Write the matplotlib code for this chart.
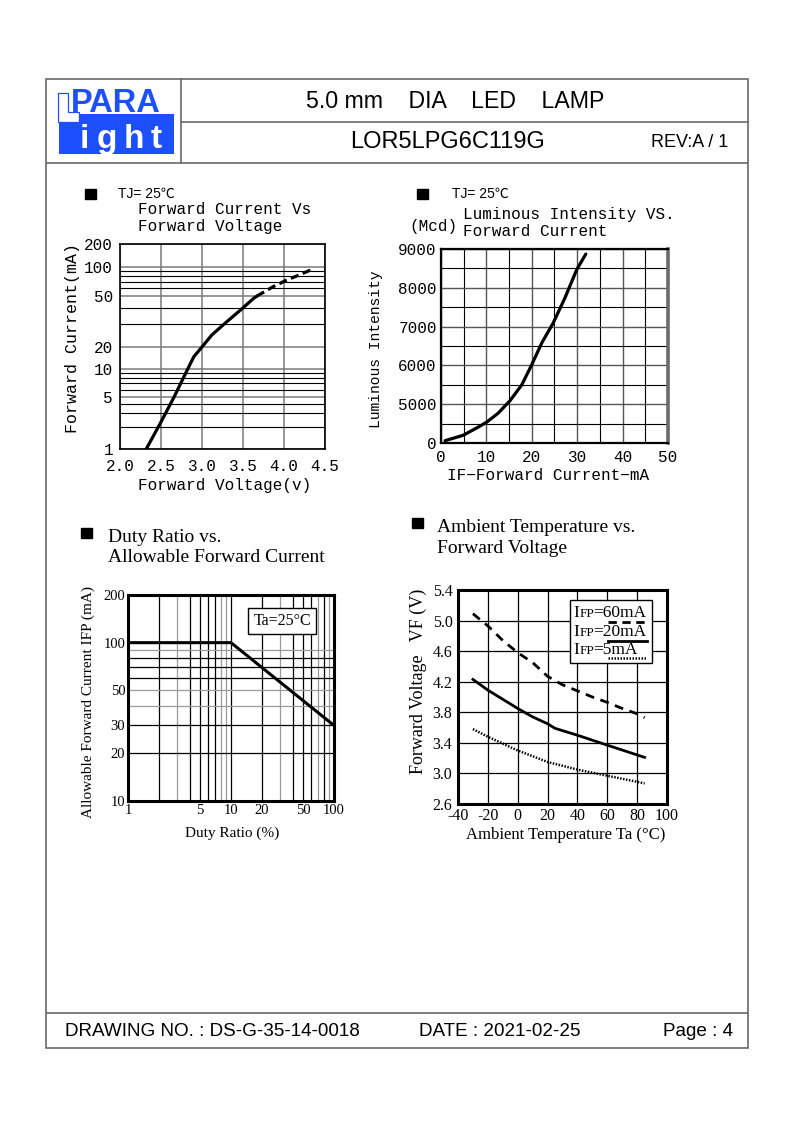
import numpy as np
import matplotlib
matplotlib.use("Agg")
import matplotlib.pyplot as plt
from matplotlib.patches import Rectangle, Polygon
from matplotlib.lines import Line2D
from matplotlib.ticker import NullFormatter

# ---- data ----
# forward current vs forward voltage (Tj = 25C)
fv_solid_v = [2.32, 2.49, 2.66, 2.80, 2.90, 3.0, 3.12, 3.28, 3.47, 3.63, 3.67]
fv_solid_i = [1.0, 2.2, 5.0, 9.0, 14.7, 20, 24.8, 30.6, 38.9, 48, 50]
fv_dash_v = [3.67, 3.87, 4.03, 4.19, 4.35]
fv_dash_i = [50, 62.7, 73, 83, 95]
fv_xticks = [2.0, 2.5, 3.0, 3.5, 4.0, 4.5]
fv_yticks = [1, 5, 10, 20, 50, 100, 200]
fv_ypos = [0, 0.254, 0.390, 0.498, 0.746, 0.888, 1.0]  # how the hand drawn axis is spaced
fv_minor = [2, 3, 4, 6, 7, 8, 9, 30, 40, 60, 70, 80, 90]

# luminous intensity vs forward current
li_if = [0.9, 4.9, 7.9, 10.1, 12.6, 15.2, 17.8, 20.0, 22.2, 24.7, 27.3, 29.9, 31.9]
li_iv = [4060, 4200, 4390, 4540, 4770, 5090, 5500, 6020, 6580, 7090, 7740, 8470, 8870]
li_yticks = [4000, 5000, 6000, 7000, 8000, 9000]
li_ylabels = ['0', '5000', '6000', '7000', '8000', '9000']  # bottom is labelled 0 on the sheet
li_xticks = [0, 10, 20, 30, 40, 50]

# duty ratio vs allowable forward current
dr_duty = [1, 10, 100]
dr_ifp = [100, 100, 30]
dr_xticks = [1, 5, 10, 20, 50, 100]
dr_yticks = [10, 20, 30, 50, 100, 200]
dr_dark_x = [2, 4, 5, 6, 7, 10, 20, 40, 50, 60, 80]
dr_light_x = [3, 8, 9, 30, 70, 90]
dr_dark_y = [20, 30, 60, 70, 80]
dr_light_y = [40, 50, 90]

# ambient temperature vs forward voltage
t60 = [-30, -20, -10, 0, 10, 20, 30, 40, 50, 60, 70, 80, 85]
v60 = [5.09, 4.93, 4.74, 4.58, 4.45, 4.27, 4.16, 4.08, 4.0, 3.93, 3.85, 3.78, 3.73]
t20 = [-30, -20, -10, 0, 10, 20, 25, 40, 60, 85]
v20 = [4.23, 4.09, 3.97, 3.85, 3.74, 3.65, 3.59, 3.50, 3.37, 3.21]
t5 = [-30, -20, 0, 20, 40, 60, 85]
v5 = [3.58, 3.48, 3.30, 3.15, 3.05, 2.97, 2.87]
at_xticks = [-40, -20, 0, 20, 40, 60, 80, 100]
at_yticks = [2.6, 3.0, 3.4, 3.8, 4.2, 4.6, 5.0, 5.4]

W, H = 794, 1123
MONO = ['Liberation Mono', 'DejaVu Sans Mono']
SERIF = ['Liberation Serif', 'DejaVu Serif']
SANS = ['Liberation Sans', 'Noto Sans CJK SC', 'DejaVu Sans']
BLUE = '#1e4fff'
FRAME = '#6a6a6a'


def fx(x):
    return x / W


def fy(y):
    return 1 - y / H


def box(l, t, r, b):
    return [fx(l), fy(b), (r - l) / W, (b - t) / H]


fig = plt.figure(figsize=(W / 100, H / 100), dpi=100)


def line(x0, y0, x1, y1, **kw):
    fig.add_artist(Line2D([fx(x0), fx(x1)], [fy(y0), fy(y1)], transform=fig.transFigure, **kw))


def txt(x, y, s, **kw):
    kw.setdefault('va', 'center')
    return fig.text(fx(x), fy(y), s, **kw)


def square(x, y):
    fig.add_artist(Rectangle((fx(x), fy(y + 10)), 11 / W, 10 / H,
                             transform=fig.transFigure, color='black'))


# ---- page frame ----
fig.add_artist(Rectangle((fx(46), fy(1048)), 702 / W, 969 / H, transform=fig.transFigure,
                         fill=False, ec=FRAME, lw=1.2))
line(46, 163, 748, 163, color=FRAME, lw=1.2)
line(181, 122, 748, 122, color=FRAME, lw=1.2)
line(181, 79, 181, 163, color=FRAME, lw=1.2)
line(46, 1013, 748, 1013, color=FRAME, lw=1.2)

# logo
fig.add_artist(Rectangle((fx(59), fy(154)), 115 / W, 40 / H, transform=fig.transFigure,
                         color=BLUE, lw=0))
Lshape = [(57.5, 93), (67.5, 93), (67.5, 112), (79, 112), (79, 122), (57.5, 122)]
fig.add_artist(Polygon([(fx(a), fy(b)) for a, b in Lshape], closed=True, transform=fig.transFigure,
                       fc='white', ec=BLUE, lw=0.9))
txt(116, 112, 'PARA', family=SANS, fontsize=23.5, weight='bold', color=BLUE,
    ha='center', va='baseline')
for ch, xc in zip('ight', [84.5, 107, 134, 156]):
    txt(xc, 148, ch, family=SANS, fontsize=24, weight='bold', color='white',
        ha='center', va='baseline')

# header / footer text
txt(455, 102, '5.0 mm    DIA    LED    LAMP', family=SANS, fontsize=16.7, ha='center')
txt(447, 142, 'LOR5LPG6C119G', family=SANS, fontsize=17, ha='center')
txt(690, 143, 'REV:A / 1', family=SANS, fontsize=13, ha='center')
txt(65, 1031, 'DRAWING NO. : DS-G-35-14-0018', family=SANS, fontsize=13.6)
txt(419, 1031, 'DATE : 2021-02-25', family=SANS, fontsize=13.6)
txt(733, 1031, 'Page : 4', family=SANS, fontsize=13.6, ha='right')


# ---- chart 1: forward current vs forward voltage ----
def fwd(y):
    return np.interp(np.log10(np.clip(y, 1e-6, None)), np.log10(fv_yticks), fv_ypos)


def inv(p):
    return 10 ** np.interp(p, fv_ypos, np.log10(fv_yticks))


square(85, 189)
txt(118, 194, 'TJ= 25℃', family=SANS, fontsize=10)
txt(138, 209, 'Forward Current Vs', family=MONO, fontsize=11.5)
txt(138, 226, 'Forward Voltage', family=MONO, fontsize=11.5)

ax1 = fig.add_axes(box(120, 244, 325, 449))
ax1.plot(fv_solid_v, fv_solid_i, color='black', lw=2.3, solid_capstyle='round',
         solid_joinstyle='round')
ax1.plot(fv_dash_v, fv_dash_i, color='black', lw=2.3, dashes=(2.6, 1.4))
ax1.set_yscale('function', functions=(fwd, inv))
ax1.set_xlim(2.0, 4.5)
ax1.set_ylim(1, 200)
ax1.set_xticks(fv_xticks)
ax1.set_xticklabels(['%.1f' % v for v in fv_xticks])
ax1.set_yticks(fv_yticks)
ax1.set_yticklabels([str(v) for v in fv_yticks])
ax1.set_yticks(fv_minor, minor=True)
ax1.yaxis.set_minor_formatter(NullFormatter())
ax1.grid(True, which='major', color='#7a7a7a', lw=1.1)
ax1.grid(True, which='minor', axis='y', color='black', lw=0.8)
ax1.set_axisbelow(True)
ax1.tick_params(which='both', length=0, labelsize=11.5)
ax1.tick_params(axis='x', pad=7)
ax1.tick_params(axis='y', pad=5)
for lab in ax1.get_xticklabels() + ax1.get_yticklabels():
    lab.set_family(MONO)
for sp in ax1.spines.values():
    sp.set_linewidth(1.2)
txt(138, 485, 'Forward Voltage(v)', family=MONO, fontsize=11.5)
txt(73, 338, 'Forward Current(mA)', family=MONO, fontsize=12, rotation=90, ha='center')

# ---- chart 2: luminous intensity vs forward current ----
square(417, 189)
txt(452, 194, 'TJ= 25℃', family=SANS, fontsize=10)
txt(409, 227, '(Mcd)', family=MONO, fontsize=11.5)
txt(463, 215, 'Luminous Intensity VS.', family=MONO, fontsize=11.5)
txt(463, 232, 'Forward Current', family=MONO, fontsize=11.5)

ax2 = fig.add_axes(box(441, 249, 668, 443))
ax2.plot(li_if, li_iv, color='black', lw=2.3, solid_joinstyle='round', solid_capstyle='round')
ax2.set_xlim(0, 50)
ax2.set_ylim(4000, 9000)
ax2.set_xticks(li_xticks)
ax2.set_yticks(li_yticks)
ax2.set_yticklabels(li_ylabels)
ax2.set_xticks(np.arange(5, 50, 10), minor=True)
ax2.set_yticks(np.arange(4500, 9000, 1000), minor=True)
ax2.grid(True, which='major', color='#555555', lw=1.0)
ax2.grid(True, which='minor', color='black', lw=0.8)
ax2.set_axisbelow(True)
ax2.tick_params(which='both', length=0, labelsize=11.5)
ax2.tick_params(axis='x', pad=5)
ax2.tick_params(axis='y', pad=3)
for lab in ax2.get_xticklabels() + ax2.get_yticklabels():
    lab.set_family(MONO)
for sp in ax2.spines.values():
    sp.set_linewidth(1.6)
ax2.spines['right'].set_color('#6a6a6a')
ax2.spines['right'].set_linewidth(2.6)
txt(447, 475, 'IF−Forward Current−mA', family=MONO, fontsize=11.5)
txt(376, 349, 'Luminous Intensity', family=MONO, fontsize=10.5, rotation=90, ha='center')

# ---- chart 3: duty ratio vs allowable forward current ----
square(81, 528)
txt(108, 537, 'Duty Ratio vs.', family=SERIF, fontsize=14)
txt(108, 557, 'Allowable Forward Current', family=SERIF, fontsize=14)

ax3 = fig.add_axes(box(128, 595, 334, 801))
for v in dr_dark_x:
    ax3.axvline(v, color='black', lw=0.9, zorder=0)
for v in dr_light_x:
    ax3.axvline(v, color='#9a9a9a', lw=0.9, zorder=0)
for v in dr_dark_y:
    ax3.axhline(v, color='black', lw=0.9, zorder=0)
for v in dr_light_y:
    ax3.axhline(v, color='#9a9a9a', lw=0.9, zorder=0)
ax3.plot(dr_duty, dr_ifp, color='black', lw=2.2)
ax3.set_xscale('log')
ax3.set_yscale('log')
ax3.set_xlim(1, 100)
ax3.set_ylim(10, 200)
ax3.set_xticks(dr_xticks)
ax3.set_xticklabels([str(v) for v in dr_xticks])
ax3.set_yticks(dr_yticks)
ax3.set_yticklabels([str(v) for v in dr_yticks])
ax3.xaxis.set_minor_formatter(NullFormatter())
ax3.yaxis.set_minor_formatter(NullFormatter())
ax3.tick_params(which='both', length=0, labelsize=10.5, pad=2)
for lab in ax3.get_xticklabels() + ax3.get_yticklabels():
    lab.set_family(SERIF)
for sp in ax3.spines.values():
    sp.set_linewidth(2.2)
ax3.text(0.748, 0.874, 'Ta=25°C', transform=ax3.transAxes, family=SERIF, fontsize=11.5,
         ha='center', va='center',
         bbox=dict(boxstyle='square,pad=0.3', fc='white', ec='black', lw=1.0))
txt(232, 833, 'Duty Ratio (%)', family=SERIF, fontsize=11, ha='center')
txt(88, 702, 'Allowable Forward Current IFP (mA)', family=SERIF, fontsize=11,
    rotation=90, ha='center')

# ---- chart 4: ambient temperature vs forward voltage ----
square(412, 518)
txt(437, 527, 'Ambient Temperature vs.', family=SERIF, fontsize=14)
txt(437, 548, 'Forward Voltage', family=SERIF, fontsize=14)

ax4 = fig.add_axes(box(458, 590, 667, 804))
ax4.plot(t60, v60, color='black', lw=2.0, dashes=(3.2, 2.4))
ax4.plot(t20, v20, color='black', lw=2.0, solid_joinstyle='round')
ax4.plot(t5, v5, color='black', lw=1.8, dashes=(0.6, 0.6))
ax4.set_xlim(-40, 100)
ax4.set_ylim(2.6, 5.4)
ax4.set_xticks(at_xticks)
ax4.set_xticklabels([str(v) for v in at_xticks])
ax4.set_yticks(at_yticks)
ax4.set_yticklabels(['%.1f' % v for v in at_yticks])
ax4.grid(True, color='black', lw=0.9)
ax4.set_axisbelow(True)
ax4.tick_params(length=0, labelsize=11.5)
ax4.tick_params(axis='x', pad=3)
ax4.tick_params(axis='y', pad=4)
for lab in ax4.get_xticklabels() + ax4.get_yticklabels():
    lab.set_family(SERIF)
for sp in ax4.spines.values():
    sp.set_linewidth(2.2)

# legend drawn as on the sheet: text with the line style underlined
ax4.add_patch(Rectangle((0.536, 0.659), 0.392, 0.294, transform=ax4.transAxes,
                        fc='white', ec='black', lw=1.0, zorder=3))
legend_rows = [('60mA', 0.893, 0.852, dict(dashes=(3.0, 2.0), lw=2.0)),
               ('20mA', 0.804, 0.762, dict(lw=2.0)),
               ('5mA', 0.720, 0.684, dict(dashes=(0.6, 0.6), lw=1.8))]
for cur, ty, ly, style in legend_rows:
    t = ax4.text(0.553, ty, 'I', transform=ax4.transAxes, family=SERIF, fontsize=12.5,
                 va='center', zorder=4)
    t2 = ax4.annotate('FP', xy=(1, 0), xycoords=t, family=SERIF, fontsize=9.5, va='bottom',
                      xytext=(0, 0.6), textcoords='offset points', zorder=4)
    ax4.annotate('=' + cur, xy=(1, 0), xycoords=t2, family=SERIF, fontsize=12.5, va='bottom',
                 xytext=(-0.8, -0.6), textcoords='offset points', zorder=4)
    ax4.plot([0.718, 0.905], [ly, ly], transform=ax4.transAxes, color='black', zorder=4, **style)

txt(566, 835, 'Ambient Temperature Ta (°C)', family=SERIF, fontsize=12, ha='center')
txt(418, 681, 'Forward Voltage   VF (V)', family=SERIF, fontsize=13, rotation=90, ha='center')

fig.savefig('out.png', dpi=100)
